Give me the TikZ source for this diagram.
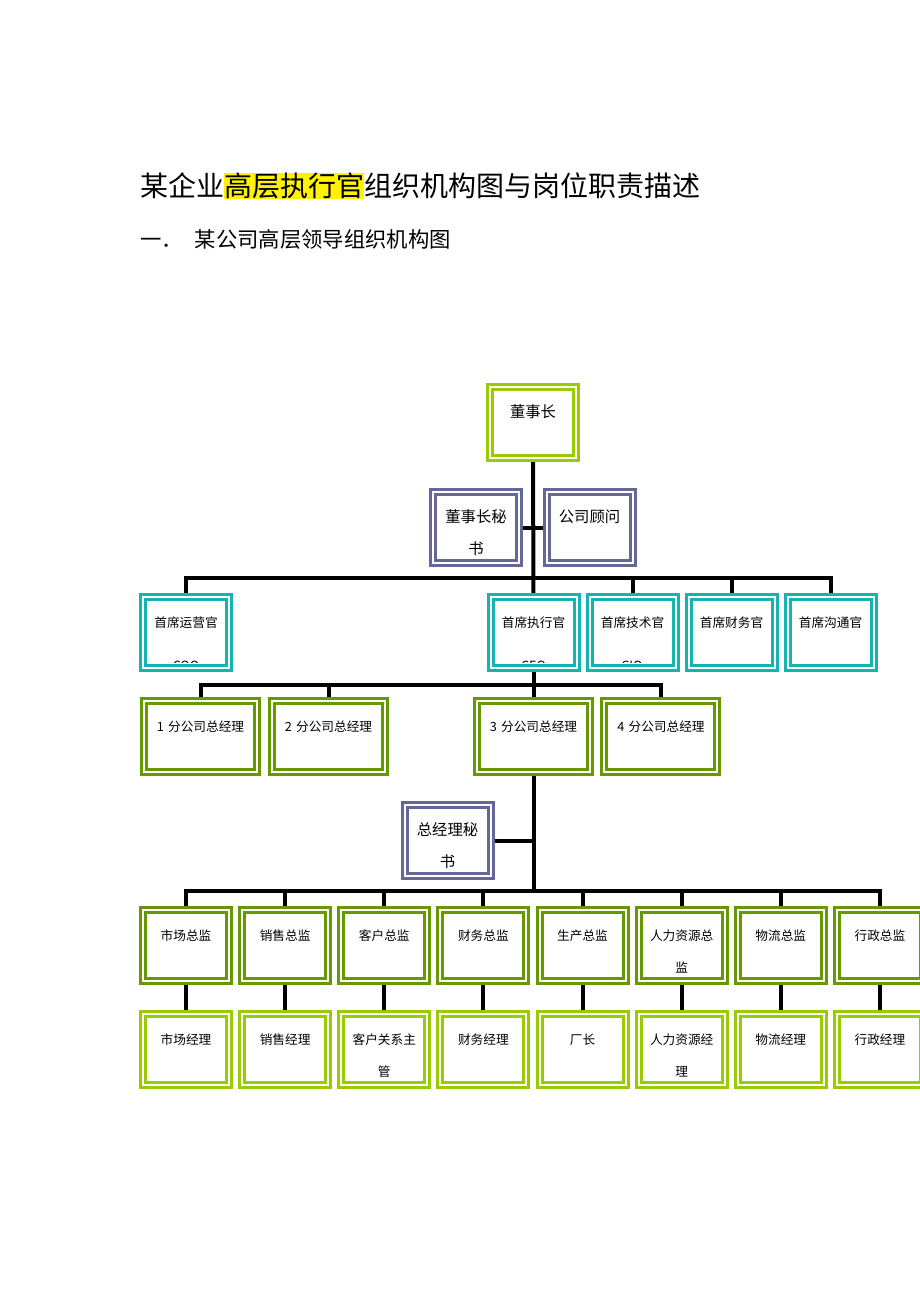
\documentclass[tikz,border=0pt]{standalone}
\usepackage{fontspec}
\setmainfont{Noto Sans CJK SC}
\usepackage{tikz}
\usetikzlibrary{positioning,backgrounds}
\definecolor{chairgreen}{HTML}{99CC00}
\definecolor{deepgreen}{HTML}{669900}
\definecolor{aideviolet}{HTML}{666699}
\definecolor{chiefteal}{HTML}{13B5AE}
\tikzset{
    post/.style={
                draw=#1,
                double=white,
                double distance=1.5pt,
                line width=2.25pt,
                minimum width=64.5pt,
                minimum height=53.25pt,
                inner sep=0pt,
                text width=62pt,
                align=center,
                text height=23pt,
                text depth=30.25pt,
                font=\fontsize{9.5}{24}\selectfont
            },
        board/.style={
                post=#1,
                font=\fontsize{11.5}{24}\selectfont
            },
        branch/.style={
                post=deepgreen,
                minimum width=84.75pt,
                text width=82pt
            },
        ghost/.style={
                inner sep=0pt,
                anchor=north,
                font=\fontsize{9.5}{12}\selectfont
            },
        conn/.style={line width=3pt},
}

\begin{document}
\begin{tikzpicture}[x=0.75pt,y=-0.75pt]
  \path[use as bounding box] (0,0) rectangle (920,1302);
  % Heading
  \node[anchor=west,inner sep=0pt,font=\fontsize{21}{21}\selectfont] (title) at (140,186)
    {某企业{\setlength{\fboxsep}{0pt}\colorbox{yellow}{高层执行官}}组织机构图与岗位职责描述};
  \node[anchor=west,inner sep=0pt,font=\fontsize{16}{16}\selectfont] (subtitle) at (140,239)
    {一．\hspace{9pt}某公司高层领导组织机构图};
  % Board
  \node[board=chairgreen] (chair) at (533,422.5) {董事长};
  \node[board=aideviolet] (sec) at (476,527.5) {董事长秘\\书};
  \node[board=aideviolet] (adv) at (589.5,527.5) {公司顾问};
  % Chief officers
  \begin{scope}
    \clip (0,0) rectangle (920,662.5);
    \node[ghost] (cootag) at (186,660.5) {COO};
    \node[ghost] (ceotag) at (533.5,660.5) {CEO};
    \node[ghost] (ciotag) at (632,660.5) {CIO};
  \end{scope}
  \node[post=chiefteal] (coo) at (186,632) {首席运营官};
  \node[post=chiefteal] (ceo) at (533.5,632) {首席执行官};
  \node[post=chiefteal,right=7.5pt of ceo] (cto) {首席技术官};
  \node[post=chiefteal,right=7.5pt of cto] (cfo) {首席财务官};
  \node[post=chiefteal,right=7.5pt of cfo] (cco) {首席沟通官};
  % Branch managers
  \node[branch] (b1) at (200.5,736) {1 分公司总经理};
  \node[branch,right=9pt of b1] (b2) {2 分公司总经理};
  \node[branch] (b3) at (533.5,736) {3 分公司总经理};
  \node[branch,right=8.6pt of b3] (b4) {4 分公司总经理};
  \node[board=aideviolet] (gmsec) at (447.5,840.5) {总经理秘\\书};
  % Directors
  \node[post=deepgreen] (d1) at (186,945) {市场总监};
  \node[post=deepgreen,right=7.6pt of d1] (d2) {销售总监};
  \node[post=deepgreen,right=7.6pt of d2] (d3) {客户总监};
  \node[post=deepgreen,right=7.6pt of d3] (d4) {财务总监};
  \node[post=deepgreen,right=7.6pt of d4] (d5) {生产总监};
  \node[post=deepgreen,right=7.6pt of d5] (d6) {人力资源总\\监};
  \node[post=deepgreen,right=7.6pt of d6] (d7) {物流总监};
  \node[post=deepgreen,right=7.6pt of d7] (d8) {行政总监};
  % Managers
  \node[post=chairgreen,below=22.5pt of d1] (m1) {市场经理};
  \node[post=chairgreen,below=22.5pt of d2] (m2) {销售经理};
  \node[post=chairgreen,below=22.5pt of d3] (m3) {客户关系主\\管};
  \node[post=chairgreen,below=22.5pt of d4] (m4) {财务经理};
  \node[post=chairgreen,below=22.5pt of d5] (m5) {厂长};
  \node[post=chairgreen,below=22.5pt of d6] (m6) {人力资源经\\理};
  \node[post=chairgreen,below=22.5pt of d7] (m7) {物流经理};
  \node[post=chairgreen,below=22.5pt of d8] (m8) {行政经理};
  % Connectors
  \begin{scope}[on background layer]
    \fill[white] (0,0) rectangle (920,1302);
    \coordinate (chiefbus) at (533.5,578);
    \coordinate (branchbus) at (533.5,685);
    \coordinate (deptbus) at (533.5,891);
    \draw[conn] (chair.south) -- (ceo.north);
    \draw[conn] (sec.east) -- (adv.west);
    \draw[conn] (coo.north) |- (cco.north |- chiefbus) -- (cco.north);
    \draw[conn] (cto.north) -- (cto.north |- chiefbus);
    \draw[conn] (cfo.north) -- (cfo.north |- chiefbus);
    \draw[conn] (ceo.south) -- (b3.north);
    \draw[conn] (b1.north) |- (b4.north |- branchbus) -- (b4.north);
    \draw[conn] (b2.north) -- (b2.north |- branchbus);
    \draw[conn] (b3.south) -- (deptbus);
    \draw[conn] (gmsec.east) -- (gmsec.east -| b3.south);
    \draw[conn] (d1.north) |- (d8.north |- deptbus) -- (d8.north);
    \draw[conn] (d2.north) -- (d2.north |- deptbus);
    \draw[conn] (d3.north) -- (d3.north |- deptbus);
    \draw[conn] (d4.north) -- (d4.north |- deptbus);
    \draw[conn] (d5.north) -- (d5.north |- deptbus);
    \draw[conn] (d6.north) -- (d6.north |- deptbus);
    \draw[conn] (d7.north) -- (d7.north |- deptbus);
    \draw[conn] (d1) -- (m1);
    \draw[conn] (d2) -- (m2);
    \draw[conn] (d3) -- (m3);
    \draw[conn] (d4) -- (m4);
    \draw[conn] (d5) -- (m5);
    \draw[conn] (d6) -- (m6);
    \draw[conn] (d7) -- (m7);
    \draw[conn] (d8) -- (m8);
  \end{scope}
\end{tikzpicture}
\end{document}
